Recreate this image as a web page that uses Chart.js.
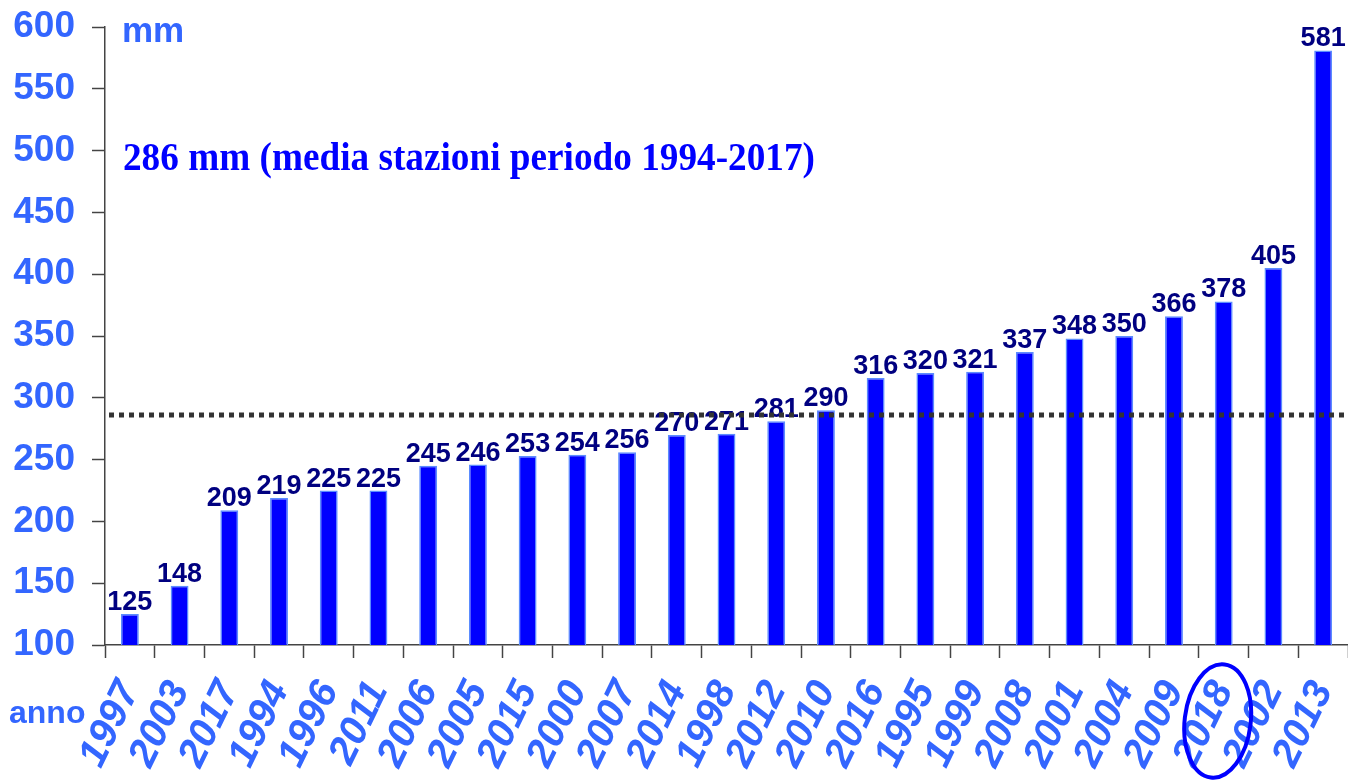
<!DOCTYPE html>
<html>
<head>
<meta charset="utf-8">
<script src="https://cdn.jsdelivr.net/npm/chart.js@4"></script>
<style>
  body { margin: 0; background: #fff; }
  #wrap { width: 1348px; height: 780px; }
</style>
</head>
<body>
<div id="wrap"><canvas id="rainChart" width="1348" height="780"></canvas></div>
<script>
// years sorted by rainfall (mm)
var years = ['1997', '2003', '2017', '1994', '1996', '2011', '2006', '2005', '2015', '2000', '2007', '2014', '1998',
             '2012', '2010', '2016', '1995', '1999', '2008', '2001', '2004', '2009', '2018', '2002', '2013'];
var rainfall = [125, 148, 209, 219, 225, 225, 245, 246, 253, 254, 256, 270, 271,
                281, 290, 316, 320, 321, 337, 348, 350, 366, 378, 405, 581];
var meanValue = 286;
var meanText = '286 mm (media stazioni periodo 1994-2017)';
var highlightYear = '2018';

var tickBlue = '#3366ff';

// value labels above the bars
var barLabels = {
    id: 'barLabels',
    afterDatasetsDraw: function(chart) {
        var ctx = chart.ctx;
        var meta = chart.getDatasetMeta(0);
        ctx.save();
        ctx.font = 'bold 27px "Liberation Sans", Arial, sans-serif';
        ctx.fillStyle = '#000080';
        ctx.textAlign = 'center';
        ctx.textBaseline = 'alphabetic';
        meta.data.forEach(function(bar, i) {
            ctx.fillText(String(rainfall[i]), bar.x, bar.y - 4);
        });
        ctx.restore();
    }
};

// dotted mean line, texts and the ellipse around 2018
var extras = {
    id: 'extras',
    afterDraw: function(chart) {
        var ctx = chart.ctx;
        var area = chart.chartArea;
        var yScale = chart.scales.y;
        var xScale = chart.scales.x;

        // mean line
        var yMean = yScale.getPixelForValue(meanValue);
        ctx.save();
        ctx.strokeStyle = '#333333';
        ctx.lineWidth = 5;
        ctx.setLineDash([5, 5]);
        ctx.beginPath();
        ctx.moveTo(area.left + 4, yMean);
        ctx.lineTo(area.right, yMean);
        ctx.stroke();
        ctx.restore();

        // unit labels
        ctx.save();
        ctx.fillStyle = tickBlue;
        ctx.font = 'bold 35px "Liberation Sans", Arial, sans-serif';
        ctx.textAlign = 'left';
        ctx.textBaseline = 'alphabetic';
        ctx.fillText('mm', 122, 42);
        ctx.font = 'bold 32px "Liberation Sans", Arial, sans-serif';
        ctx.fillText('anno', 9, 723);
        ctx.restore();

        // mean annotation, condensed serif
        ctx.save();
        ctx.fillStyle = '#0000ff';
        ctx.font = 'bold 40px "Liberation Serif", "Times New Roman", serif';
        ctx.textAlign = 'left';
        ctx.textBaseline = 'alphabetic';
        var w = ctx.measureText(meanText).width;
        ctx.translate(123, 170);
        ctx.scale(692 / w, 1);
        ctx.fillText(meanText, 0, 0);
        ctx.restore();

        // ellipse around highlighted year
        var idx = years.indexOf(highlightYear);
        var cx = xScale.getPixelForValue(idx) - 6;
        ctx.save();
        ctx.strokeStyle = '#0000ff';
        ctx.lineWidth = 4;
        ctx.beginPath();
        ctx.ellipse(cx, 721, 33, 57, 0.12, 0, Math.PI * 2);
        ctx.stroke();
        ctx.restore();
    }
};

var ctxRain = document.getElementById('rainChart').getContext('2d');
var rainChart = new Chart(ctxRain, {
    type: 'bar',
    data: {
        labels: years,
        datasets: [{
            data: rainfall,
            backgroundColor: '#0000ff',
            borderColor: '#5b8cff',
            borderWidth: 1.5,
            barPercentage: 0.36,
            categoryPercentage: 1
        }]
    },
    options: {
        responsive: false,
        animation: false,
        layout: { padding: { top: 27, right: 0, bottom: 0, left: 0 } },
        plugins: {
            legend: { display: false },
            tooltip: { enabled: false }
        },
        scales: {
            x: {
                offset: true,
                afterFit: function(scale) {
                    scale.height = 135;
                    scale.paddingLeft = 0;
                    scale.paddingRight = 0;
                },
                grid: {
                    offset: true,
                    drawOnChartArea: false,
                    tickLength: 13,
                    tickColor: '#444',
                    tickWidth: 1.5
                },
                border: { color: '#444', width: 1.5 },
                ticks: {
                    color: tickBlue,
                    font: { family: '"Liberation Sans", Arial, sans-serif', size: 40, weight: 'bold', style: 'italic' },
                    minRotation: 64,
                    maxRotation: 64,
                    autoSkip: false,
                    padding: 16
                }
            },
            y: {
                min: 100,
                max: 600,
                afterFit: function(scale) {
                    scale.width = 105;
                    scale.paddingTop = 0;
                    scale.paddingBottom = 0;
                },
                grid: {
                    drawOnChartArea: false,
                    tickLength: 13,
                    tickColor: '#444',
                    tickWidth: 1.5
                },
                border: { color: '#444', width: 1.5 },
                ticks: {
                    stepSize: 50,
                    color: tickBlue,
                    font: { family: '"Liberation Sans", Arial, sans-serif', size: 37, weight: 'bold' },
                    padding: 17
                }
            }
        }
    },
    plugins: [barLabels, extras]
});
</script>
</body>
</html>
